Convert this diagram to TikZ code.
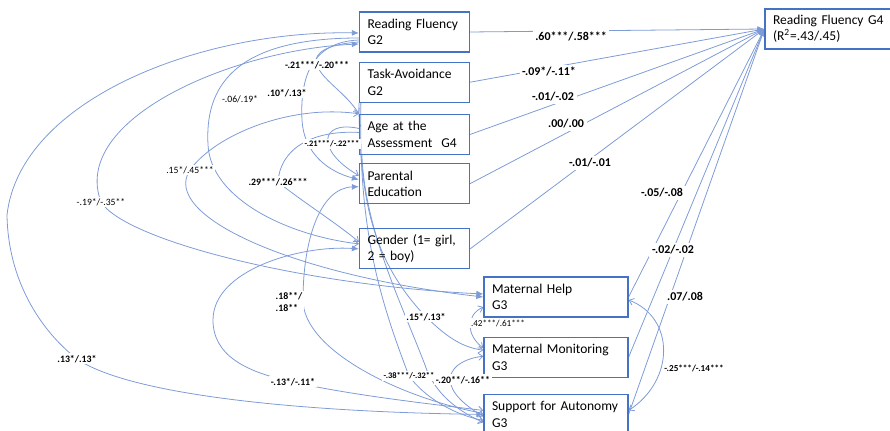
\documentclass[tikz,border=0pt]{standalone}
\usepackage{fontspec}
\setmainfont{Carlito}
\usetikzlibrary{positioning,calc,arrows.meta,backgrounds}
\definecolor{boxblue}{RGB}{68,114,196}
\definecolor{lineblue}{RGB}{125,155,215}
\tikzstyle{block} = [rectangle, draw=boxblue, line width=0.7pt,
minimum height=0.8cm,
inner xsep=0.16cm, inner ysep=1pt,
align=left,
font=\fontsize{7.7}{9.3}\selectfont]
\tikzstyle{block_G2} = [block, text width=1.88cm]
\tikzstyle{block_G3} = [block, text width=2.56cm]
\tikzstyle{block_G4} = [block, text width=2.48cm]
\tikzstyle{coef} = [fill=white, inner sep=1pt, font=\fontsize{5.6}{6.4}\selectfont\bfseries]
\tikzstyle{coef_big} = [fill=white, inner sep=1.5pt, font=\fontsize{6.8}{8}\selectfont\bfseries]
\tikzstyle{coef_small} = [fill=white, inner sep=1pt, font=\fontsize{4.8}{5.6}\selectfont\bfseries]
\tikzstyle{coef_plain} = [fill=white, inner sep=1pt, font=\fontsize{5.5}{6.4}\selectfont]
\tikzstyle{link} = [draw=lineblue, line width=0.45pt]
\tikzstyle{arrow} = [link, -{Latex[length=4pt,width=3.4pt]}]
\tikzstyle{arrow_double} = [link, {Latex[length=4pt,width=3.4pt]}-{Latex[length=4pt,width=3.4pt]}]
\tikzstyle{arrow_open} = [link, -{Straight Barb[length=2.5pt,width=4pt]}]
\tikzstyle{arrow_double_open} = [link, {Straight Barb[length=2.5pt,width=4pt]}-{Straight Barb[length=2.5pt,width=4pt]}]

\begin{document}
\begin{tikzpicture}[x=0.02cm, y=-0.02cm]
\useasboundingbox (0,0) rectangle (890,431);
\clip (0,0) rectangle (890,431);

% G2 / background variables
\node[block_G2] (RF2) at (414.5,32) {Reading Fluency\\G2};
\node[block_G2, below=0.18cm of RF2] (TA2) {Task-Avoidance\\G2};
\node[block_G2, below=0.22cm of TA2] (Age) {Age at the\\Assessment~ G4};
\node[block_G2, below=0.16cm of Age] (PE) {Parental\\Education};
\node[block_G2, below=0.48cm of PE] (Gender) {Gender (1= girl,\\2 = boy)};

% G3 mediators
\node[block_G3] (MH) at (556,297) {Maternal Help\\G3};
\node[block_G3, below=0.38cm of MH] (MM) {Maternal Monitoring\\G3};
\node[block_G3, below=0.32cm of MM] (SA) {Support for Autonomy\\G3};

% G4 outcome
\node[block_G4] (RF4) at (835,29) {Reading Fluency G4\\(R\textsuperscript{2}=.43/.45)};

% Coefficients on paths to the outcome
\node[coef_big] (c_RF2) at (571,37) {.60***/.58***};
\node[coef_big] (c_TA2) at (549,72) {-.09*/-.11*};
\node[coef_big] (c_Age) at (553,97) {-.01/-.02};
\node[coef_big] (c_PE) at (566,124) {.00/.00};
\node[coef_big] (c_Gender) at (590,163) {-.01/-.01};
\node[coef_big] (c_MH) at (662,193) {-.05/-.08};
\node[coef_big] (c_MM) at (673,250) {-.02/-.02};
\node[coef_big] (c_SA) at (685,297) {.07/.08};

% Coefficients on the curved paths
\node[coef] (c_RF2_SA) at (77,359) {.13*/.13*};
\node[coef_plain] (c_RF2_MH) at (101,202) {-.19*/-.35**};
\node[coef_plain] (c_Age_MH) at (190,170) {.15*/.45***};
\node[coef_plain] (c_RF2_Gender) at (240,99) {-.06/.19*};
\node[coef] (c_RF2_PE) at (287,93) {.10*/.13*};
\node[coef] (c_RF2_Age) at (317,65) {-.21***/-.20***};
\node[coef_small] (c_Age_PE) at (332,144) {-.21***/-.22***};
\node[coef] (c_Age_Gender) at (278,182) {.29***/.26***};
\node[coef, align=left] (c_PE_SA) at (289,302) {.18**/\\.18**};
\node[coef] (c_Gender_SA) at (293,382) {-.13*/-.11*};
\node[coef] (c_TA2_MM) at (426,317) {.15*/.13*};
\node[coef_small] (c_TA2_SA) at (409,376) {-.38***/-.32**};
\node[coef] (c_MM_SA) at (463,380) {-.20**/-.16**};
\node[coef_plain, font=\fontsize{5.2}{6}\selectfont] (c_MH_MM) at (498,323) {.42***/.61***};
\node[coef_small, font=\fontsize{5.2}{6}\selectfont\bfseries] (c_MH_SA) at (694,368) {-.25***/-.14***};

\begin{scope}[on background layer]
% Paths to reading fluency G4
\draw [arrow] (RF2.east) -- (RF4.west);
\draw [arrow] (TA2.east) -- (RF4.west);
\draw [arrow] (Age.east) -- (RF4.west);
\draw [arrow] (PE.east) -- (RF4.west);
\draw [arrow] (Gender.east) -- (RF4.west);
\draw [arrow] (MH.east) -- (RF4.west);
\draw [arrow] (MM.east) -- (RF4.west);
\draw [arrow] (SA.east) -- (RF4.west);

% Long curves from reading fluency G2
\draw [arrow_double] ($(RF2.west)+(0,1)$) .. controls (200,30) and (20,100) .. (7,215)
  .. controls (8,280) and (40,330) .. (c_RF2_SA.center)
  .. controls (130,395) and (300,412) .. (SA.west);
\draw [arrow_double] ($(RF2.west)+(0,12)$) .. controls (230,50) and (70,120) .. (c_RF2_MH.center)
  .. controls (125,240) and (300,285) .. ($(MH.west)+(0,-3)$);
\draw [arrow_open] ($(RF2.west)+(0,6)$) .. controls (230,38) and (205,90) .. (208,145)
  .. controls (211,200) and (290,236) .. ($(Gender.west)+(0,-5)$);
\draw [arrow_open] ($(RF2.west)+(0,10)$) .. controls (330,44) and (312,52) .. (c_RF2_Age.center)
  .. controls (322,80) and (345,92) .. (Age.north west);
\draw [arrow] ($(RF2.west)+(0,8)$) .. controls (310,42) and (300,80) .. (302,120)
  .. controls (304,155) and (330,172) .. ($(PE.west)+(0,-4)$);

% Covariances among background variables
\draw [arrow_open] ($(Age.west)+(0,-6)$) .. controls (320,120) and (315,150) .. ($(PE.west)+(0,-8)$);
\draw [arrow_open] ($(Age.west)+(0,-2)$) .. controls (310,130) and (280,150) .. (c_Age_Gender.center)
  .. controls (300,200) and (335,222) .. ($(Gender.west)+(0,-7)$);

% Paths to the mediators
\draw [{Straight Barb[length=2.5pt,width=4pt]}-{Latex[length=4pt,width=3.4pt]}, link] (Age.north west)
  .. controls (290,104) and (215,135) .. (c_Age_MH.center)
  .. controls (160,215) and (290,275) .. (MH.west);
\draw [{Latex[length=4pt,width=3.4pt]}-{Straight Barb[length=2.5pt,width=4pt]}, link] (Gender.west)
  .. controls (300,245) and (213,270) .. (213,320)
  .. controls (213,355) and (245,372) .. (c_Gender_SA.center)
  .. controls (350,395) and (430,404) .. ($(SA.west)+(0,-4)$);
\draw [{Latex[length=4pt,width=3.4pt]}-, link] ($(PE.west)+(0,3)$) .. controls (320,188) and (303,240) .. (303,300)
  .. controls (303,350) and (400,398) .. ($(SA.west)+(0,-1)$);
\draw [arrow_open] (TA2.south west) .. controls (360,200) and (372,260) .. (c_TA2_MM.center)
  .. controls (445,335) and (460,347) .. ($(MM.west)+(0,-7)$);
\draw [arrow_open] ($(TA2.south west)+(2,0)$) .. controls (358,230) and (380,300) .. (c_TA2_SA.center)
  .. controls (425,398) and (455,415) .. ($(SA.west)+(0,6)$);
\draw [arrow_open] ($(Age.south west)+(3,0)$) .. controls (365,230) and (400,300) .. (425,365)
  .. controls (435,395) and (460,412) .. ($(SA.west)+(0,8)$);

% Residual covariances of the mediators
\draw [arrow_double_open] ($(MH.west)+(0,10)$) .. controls (466,315) and (466,335) .. ($(MM.west)+(0,-9)$);
\draw [arrow_double_open] ($(MM.west)+(0,-1)$) .. controls (450,360) and (430,385) .. ($(SA.west)+(0,2)$);
\draw [arrow_double_open] ($(MH.east)+(0,3)$) .. controls (675,318) and (675,380) .. ($(SA.east)+(0,-4)$);
\end{scope}

\end{tikzpicture}
\end{document}
